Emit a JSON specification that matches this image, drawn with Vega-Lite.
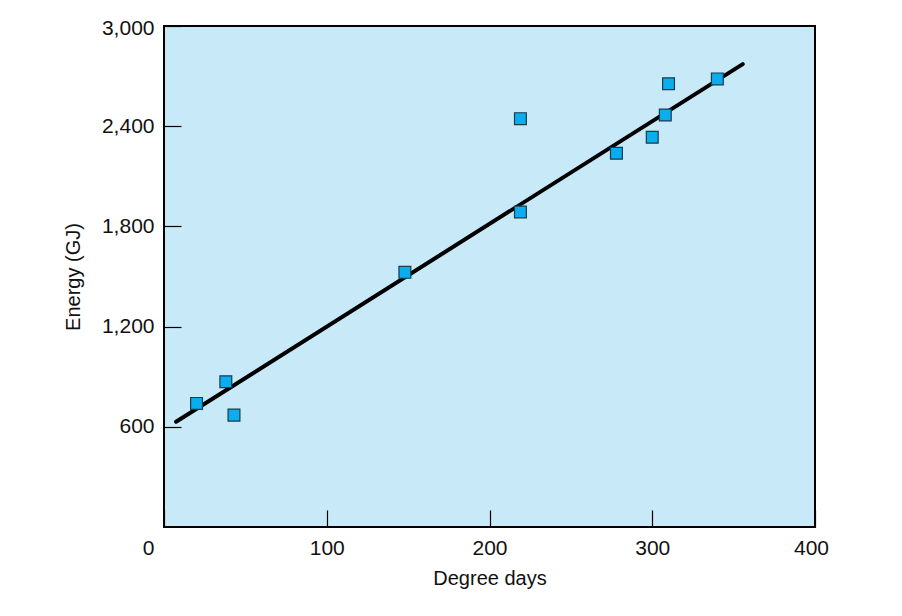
{
  "$schema": "https://vega.github.io/schema/vega-lite/v6.json",
  "width": 651,
  "height": 501,
  "autosize": {"type": "none"},
  "padding": {"left": 164, "top": 26, "right": 87, "bottom": 89},
  "background": "white",
  "config": {
    "view": {"fill": "#C8E9F8", "stroke": "#000000", "strokeWidth": 2},
    "axis": {
      "labelFont": "Liberation Sans",
      "titleFont": "Liberation Sans",
      "labelFontSize": 21,
      "titleFontSize": 20,
      "labelColor": "#111111",
      "titleColor": "#111111",
      "titleFontWeight": "normal",
      "grid": false,
      "domain": false,
      "labelFlush": false,
      "tickColor": "#000000",
      "tickWidth": 1.2,
      "tickSize": -17,
      "labelPadding": 27
    }
  },
  "datasets": {
    "points": [
      {"degree_days": 20, "energy": 740},
      {"degree_days": 38, "energy": 870},
      {"degree_days": 43, "energy": 670},
      {"degree_days": 148, "energy": 1525},
      {"degree_days": 219, "energy": 2445},
      {"degree_days": 219, "energy": 1886},
      {"degree_days": 278, "energy": 2238},
      {"degree_days": 300, "energy": 2334},
      {"degree_days": 308, "energy": 2467},
      {"degree_days": 310, "energy": 2654},
      {"degree_days": 340, "energy": 2683}
    ],
    "fit": [
      {"degree_days": 7.4, "energy": 630},
      {"degree_days": 355.6, "energy": 2772}
    ]
  },
  "layer": [
    {
      "data": {"name": "fit"},
      "mark": {"type": "line", "color": "#000000", "strokeWidth": 4, "strokeCap": "round"},
      "encoding": {
        "x": {
          "field": "degree_days", "type": "quantitative",
          "scale": {"domain": [0, 400], "nice": false},
          "axis": {
            "title": "Degree days",
            "values": [0, 100, 200, 300, 400],
            "titlePadding": 10,
            "labelOffset": {"expr": "datum.value == 0 ? -16 : (datum.value == 400 ? -4 : 0)"}
          }
        },
        "y": {
          "field": "energy", "type": "quantitative",
          "scale": {"domain": [0, 3000], "nice": false},
          "axis": {
            "title": "Energy (GJ)",
            "values": [600, 1200, 1800, 2400, 3000],
            "format": ",d",
            "titlePadding": 18,
            "labelOffset": {"expr": "datum.value == 3000 ? 2 : 0"}
          }
        }
      }
    },
    {
      "data": {"name": "points"},
      "mark": {"type": "point", "shape": "square", "filled": true, "size": 140, "fill": "#0AADEE", "stroke": "#1B3B4F", "strokeWidth": 1.2, "opacity": 1},
      "encoding": {
        "x": {"field": "degree_days", "type": "quantitative"},
        "y": {"field": "energy", "type": "quantitative"}
      }
    }
  ]
}
